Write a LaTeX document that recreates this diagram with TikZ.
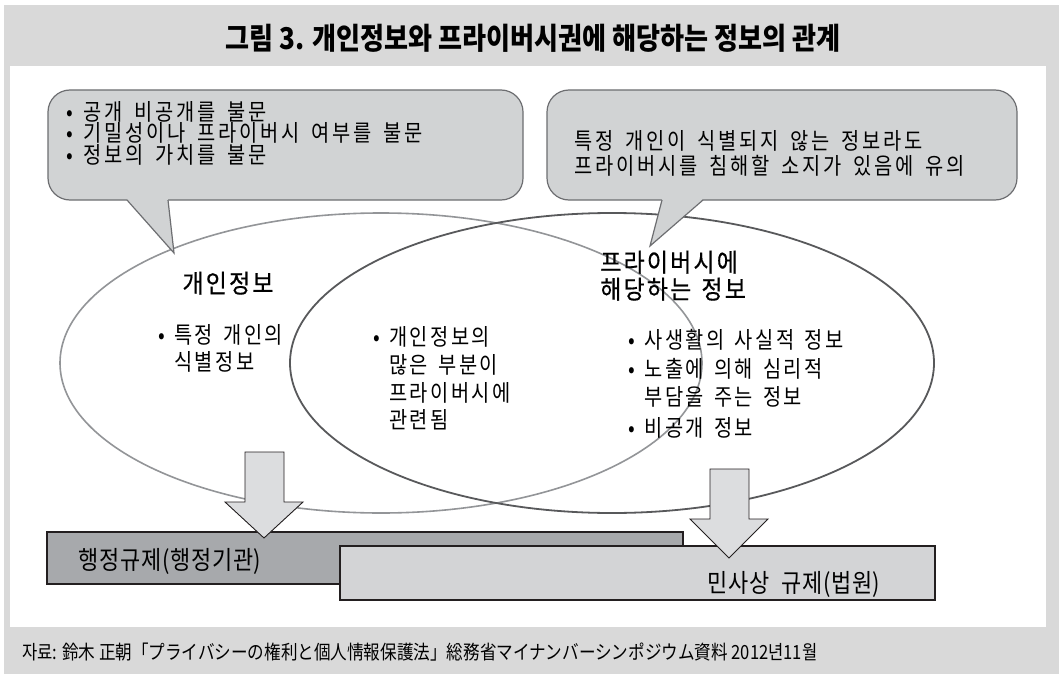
\documentclass[tikz,border=0pt]{standalone}
\usepackage{fontspec}
\newfontfamily\krbody[FakeStretch=0.86]{Noto Sans CJK KR}
\newfontfamily\krhead[FakeStretch=0.9,FakeBold=0.5]{Noto Sans CJK KR}
\newfontfamily\krn[FakeStretch=0.86]{Noto Sans CJK KR}
\newfontfamily\krtitle[FakeStretch=0.87]{Noto Sans CJK KR}
\newfontfamily\krsrc[FakeStretch=0.85]{Noto Sans CJK KR}
\definecolor{bg}{HTML}{D9D9D9}
\definecolor{cfill}{HTML}{D1D3D4}
\definecolor{cline}{HTML}{6D6E71}
\definecolor{lell}{HTML}{939598}
\definecolor{rell}{HTML}{58595B}
\definecolor{darkbar}{HTML}{A7A9AC}
\definecolor{lightbar}{HTML}{D3D4D6}
\definecolor{arrfill}{HTML}{DCDDDF}
\definecolor{edge}{HTML}{231F20}
\ExplSyntaxOn
\NewDocumentCommand \monotext { m m m }
  {
    \str_map_inline:nn { #3 }
      {
        \str_if_eq:nnTF { ##1 } { ~ }
          { \hspace*{#2} }
          {
            \str_if_in:nnTF { () } { ##1 }
              { ##1 }
              { \makebox[#1]{##1} }
          }
      }
  }
\ExplSyntaxOff
\newcommand\bul[1]{\makebox[#1][l]{•}}
\newcommand\calltext[1]{\monotext{21pt}{9pt}{#1}}
\newcommand\elltext[1]{\monotext{20.6pt}{8pt}{#1}}
\newcommand\headtext[1]{\monotext{23.3pt}{8pt}{#1}}
\newcommand\bartext[1]{\monotext{21pt}{11pt}{#1}}
\newcommand\fcall{\krbody\fontsize{23}{25}\selectfont}
\newcommand\fin{\krbody\fontsize{23}{25}\selectfont}
\newcommand\fhead{\krhead\fontsize{25.5}{28}\selectfont}
\newcommand\fbar{\krn\fontsize{25.5}{28}\selectfont}
\newcommand\ftitle{\krtitle\bfseries\fontsize{30}{32}\selectfont}
\newcommand\fsrc{\krsrc\fontsize{19.5}{22}\selectfont}
\begin{document}
\begin{tikzpicture}[x=1pt,y=-1pt,
  txt/.style={inner sep=0pt, anchor=base west},
  calltxt/.style={txt, font=\fcall},
  intxt/.style={txt, font=\fin},
  headtxt/.style={txt, font=\fhead},
  bartxt/.style={txt, font=\fbar},
  callbox/.style={fill=cfill, draw=cline, line width=1.2pt, rounded corners=22pt},
  tailfill/.style={fill=cfill},
  tailline/.style={draw=cline, line width=1.2pt, line join=miter},
  lellipse/.style={draw=lell, line width=1.6pt},
  rellipse/.style={draw=rell, line width=1.8pt},
  downarrow/.style={fill=arrfill, draw=edge, line width=0.9pt},
  dbar/.style={fill=darkbar, draw=edge, line width=1.1pt},
  lbar/.style={fill=lightbar, draw=edge, line width=1.1pt}]
\useasboundingbox (0,0) rectangle (1059,674);
\fill[bg] (4,5) rectangle (1059,674);
\fill[white] (10,66) rectangle (1046,627);
\node[inner sep=0pt, font=\ftitle] (title) at (533,38) {그림 3. 개인정보와 프라이버시권에 해당하는 정보의 관계};

% ellipses
\draw[lellipse] (381,363) ellipse [x radius=321, y radius=150];
\draw[rellipse] (612,363) ellipse [x radius=322, y radius=150];

% ellipse contents
\node[headtxt, anchor=base] (h1) at (228,292.7) {\headtext{개인정보}};
\node[intxt] (a1) at (158,343.8) {\bul{15pt}\elltext{특정 개인의}};
\node[intxt] (a2) at (173,370.8) {\elltext{식별정보}};
\node[intxt] (b1) at (373,345.8) {\bul{15pt}\elltext{개인정보의}};
\node[intxt] (b2) at (388,373.8) {\elltext{많은 부분이}};
\node[intxt] (b3) at (388,401.8) {\elltext{프라이버시에}};
\node[intxt] (b4) at (388,428.8) {\elltext{관련됨}};
\node[headtxt] (h2) at (599,271.7) {\headtext{프라이버시에}};
\node[headtxt] (h3) at (599,298.7) {\headtext{해당하는 정보}};
\node[intxt] (c1) at (628,348.8) {\bul{15pt}\elltext{사생활의 사실적 정보}};
\node[intxt] (c2) at (628,377.3) {\bul{15pt}\elltext{노출에 의해 심리적}};
\node[intxt] (c3) at (643,405.8) {\elltext{부담을 주는 정보}};
\node[intxt] (c4) at (628,436.8) {\bul{15pt}\elltext{비공개 정보}};

% bars and arrows
\draw[dbar] (47,532) rectangle (683,584);
\node[bartxt] (bar1) at (78,569.7) {\bartext{행정규제(행정기관)}};
\draw[downarrow] (245,452) -- (284,452) -- (284,502) -- (303,502) -- (264,538) -- (225,502) -- (245,502) -- cycle;
\draw[lbar] (340,546) rectangle (935,600);
\node[bartxt] (bar2) at (707,592.7) {\bartext{민사상 규제(법원)}};
\draw[downarrow] (710,469) -- (749,469) -- (749,519) -- (768,519) -- (729,558) -- (690,519) -- (710,519) -- cycle;

% callouts
\draw[callbox] (48,90) rectangle (523,200);
\fill[tailfill] (127,199) -- (174,253) -- (168,199) -- cycle;
\draw[tailline] (127,200) -- (174,253) -- (168,200);
\node[calltxt] (l1) at (66,120.8) {\bul{16pt}\calltext{공개 비공개를 불문}};
\node[calltxt] (l2) at (66,141.8) {\bul{16pt}\calltext{기밀성이나 프라이버시 여부를 불문}};
\node[calltxt] (l3) at (66,163.8) {\bul{16pt}\calltext{정보의 가치를 불문}};

\draw[callbox] (547,90) rectangle (1017,200);
\fill[tailfill] (662,199) -- (650,246) -- (703,199) -- cycle;
\draw[tailline] (662,200) -- (650,246) -- (703,200);
\node[calltxt] (r1) at (573,149.8) {\calltext{특정 개인이 식별되지 않는 정보라도}};
\node[calltxt] (r2) at (573,174.8) {\calltext{프라이버시를 침해할 소지가 있음에 유의}};

% source
\node[txt, font=\fsrc] (src) at (22,659.4) {자료: 鈴木 正朝「プライバシーの権利と個人情報保護法」総務省マイナンバーシンポジウム資料 2012년11월};
\end{tikzpicture}
\end{document}
